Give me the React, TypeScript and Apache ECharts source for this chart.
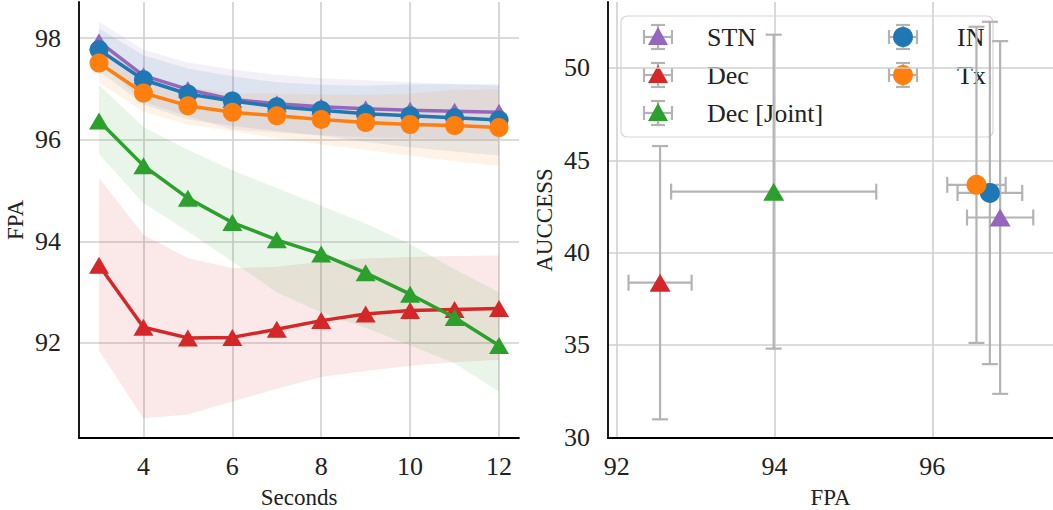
import React, { useEffect, useRef } from 'react';
import * as echarts from 'echarts';

// ---------- Left panel data (FPA vs Seconds) ----------
const seconds = [3, 4, 5, 6, 7, 8, 9, 10, 11, 12];
const xTicksLeft = [4, 6, 8, 10, 12];
const yTicksLeft = [92, 94, 96, 98];

const stnMean = [97.93, 97.26, 96.99, 96.79, 96.71, 96.65, 96.61, 96.58, 96.56, 96.54];
const stnLow = [97.54, 96.75, 96.46, 96.2, 96.14, 96.09, 96.05, 96.03, 96.02, 96.02];
const stnHigh = [98.32, 97.77, 97.52, 97.38, 97.28, 97.21, 97.17, 97.13, 97.1, 97.06];

const decMean = [93.53, 92.31, 92.1, 92.11, 92.27, 92.44, 92.57, 92.64, 92.66, 92.68];
const decLow = [91.85, 90.52, 90.59, 90.85, 91.1, 91.33, 91.45, 91.55, 91.62, 91.67];
const decHigh = [95.25, 94.13, 93.67, 93.47, 93.5, 93.6, 93.66, 93.69, 93.71, 93.72];

const jointMean = [96.37, 95.49, 94.85, 94.37, 94.03, 93.75, 93.38, 92.96, 92.5, 91.95];
const jointLow = [95.72, 94.75, 94.2, 93.6, 93.0, 92.6, 92.3, 91.95, 91.6, 91.04];
const jointHigh = [97.08, 96.25, 95.8, 95.4, 95.05, 94.7, 94.35, 93.95, 93.45, 93.0];

const inMean = [97.77, 97.18, 96.9, 96.76, 96.65, 96.58, 96.51, 96.47, 96.43, 96.39];
const inLow = [97.35, 96.7, 96.4, 96.27, 96.17, 96.08, 95.96, 95.85, 95.77, 95.69];
const inHigh = [98.19, 97.66, 97.4, 97.25, 97.13, 97.08, 97.06, 97.09, 97.09, 97.09];

const txMean = [97.51, 96.92, 96.67, 96.54, 96.47, 96.4, 96.34, 96.3, 96.28, 96.24];
const txLow = [97.12, 96.55, 96.3, 96.17, 96.03, 95.91, 95.8, 95.69, 95.58, 95.49];
const txHigh = [97.9, 97.29, 97.04, 96.91, 96.91, 96.89, 96.88, 96.91, 96.98, 96.99];

// ---------- Right panel data (AUCCESS vs FPA) ----------
const xTicksRight = [92, 94, 96];
const yTicksRight = [30, 35, 40, 45, 50];
const modelNames = ['STN', 'Dec', 'Dec [Joint]', 'IN', 'Tx'];
const fpaValue = [96.86, 92.55, 93.99, 96.73, 96.56];
const fpaErr = [0.42, 0.4, 1.3, 0.41, 0.37];
const auccessValue = [41.9, 38.37, 43.3, 43.23, 43.67];
const auccessErr = [9.55, 7.4, 8.5, 9.27, 8.56];

const colors = ['#9467bd', '#d62728', '#2ca02c', '#1f77b4', '#ff7f0e'];
const bandFills = [
  'rgba(148,103,189,0.1)',
  'rgba(214,39,40,0.1)',
  'rgba(44,160,44,0.1)',
  'rgba(31,119,180,0.1)',
  'rgba(255,127,14,0.1)',
];
const isTriangle = [true, true, true, false, false];

const means = [stnMean, decMean, jointMean, inMean, txMean];
const lows = [stnLow, decLow, jointLow, inLow, txLow];
const highs = [stnHigh, decHigh, jointHigh, inHigh, txHigh];

const FONT = '"Liberation Serif", "Times New Roman", serif';
const TEXT = '#222222';
const GRIDC = '#d0d0d0';
const ERRC = '#b3b3b3';

function bandSeries(idx: number) {
  const low = lows[idx];
  const high = highs[idx];
  return {
    type: 'custom',
    xAxisIndex: 0,
    yAxisIndex: 0,
    z: 1,
    silent: true,
    clip: true,
    data: seconds.map((x, i) => [x, low[i], high[i]]),
    encode: { x: 0, y: [1, 2] },
    renderItem: (params: any, api: any) => {
      if (params.dataIndex !== 0) return null;
      const pts: number[][] = [];
      for (let i = 0; i < seconds.length; i++) pts.push(api.coord([seconds[i], high[i]]));
      for (let i = seconds.length - 1; i >= 0; i--) pts.push(api.coord([seconds[i], low[i]]));
      return {
        type: 'polygon',
        shape: { points: pts },
        style: { fill: bandFills[idx], stroke: 'none' },
      };
    },
  };
}

function lineSeries(idx: number) {
  return {
    type: 'line',
    name: modelNames[idx],
    xAxisIndex: 0,
    yAxisIndex: 0,
    z: 3 + idx,
    data: seconds.map((x, i) => [x, means[idx][i]]),
    symbol: isTriangle[idx] ? 'triangle' : 'circle',
    symbolSize: isTriangle[idx] ? [20, 17] : 19,
    showAllSymbol: true,
    lineStyle: { color: colors[idx], width: 3.5 },
    itemStyle: { color: colors[idx], opacity: 1 },
    emphasis: { disabled: true },
  };
}

function errorSeries(idx: number) {
  return {
    type: 'custom',
    xAxisIndex: 1,
    yAxisIndex: 1,
    z: 2,
    silent: true,
    data: [[fpaValue[idx], auccessValue[idx], fpaErr[idx], auccessErr[idx]]],
    encode: { x: 0, y: 1 },
    renderItem: (params: any, api: any) => {
      const x = api.value(0);
      const y = api.value(1);
      const xe = api.value(2);
      const ye = api.value(3);
      const l = api.coord([x - xe, y]);
      const r = api.coord([x + xe, y]);
      const t = api.coord([x, y + ye]);
      const b = api.coord([x, y - ye]);
      const c = 8;
      const style = { stroke: ERRC, lineWidth: 2.2 };
      const ln = (x1: number, y1: number, x2: number, y2: number) => ({
        type: 'line',
        shape: { x1, y1, x2, y2 },
        style,
      });
      return {
        type: 'group',
        children: [
          ln(l[0], l[1], r[0], r[1]),
          ln(l[0], l[1] - c, l[0], l[1] + c),
          ln(r[0], r[1] - c, r[0], r[1] + c),
          ln(t[0], t[1], b[0], b[1]),
          ln(t[0] - c, t[1], t[0] + c, t[1]),
          ln(b[0] - c, b[1], b[0] + c, b[1]),
        ],
      };
    },
  };
}

function pointSeries(idx: number) {
  return {
    type: 'scatter',
    name: modelNames[idx],
    xAxisIndex: 1,
    yAxisIndex: 1,
    z: 10 + idx,
    data: [[fpaValue[idx], auccessValue[idx]]],
    symbol: isTriangle[idx] ? 'triangle' : 'circle',
    symbolSize: isTriangle[idx] ? [21, 18] : 20,
    itemStyle: { color: colors[idx], opacity: 1 },
    emphasis: { disabled: true },
  };
}

function legendGraphics() {
  const box = { x: 621, y: 16, w: 372, h: 121 };
  const rows = [37, 75, 113];
  const place = [
    { ix: 658, tx: 707, cy: rows[0] },
    { ix: 658, tx: 707, cy: rows[1] },
    { ix: 658, tx: 707, cy: rows[2] },
    { ix: 903, tx: 957, cy: rows[0] },
    { ix: 903, tx: 957, cy: rows[1] },
  ];
  const children: any[] = [
    {
      type: 'rect',
      shape: { x: box.x, y: box.y, width: box.w, height: box.h, r: 6 },
      style: { fill: 'rgba(255,255,255,0.8)', stroke: '#d6d6d6', lineWidth: 1.2 },
    },
  ];
  modelNames.forEach((name, i) => {
    const { ix, tx, cy } = place[i];
    const s = { stroke: ERRC, lineWidth: 2.2 };
    const hw = 14;
    const vh = 12;
    const c = 7;
    children.push(
      { type: 'line', shape: { x1: ix - hw, y1: cy, x2: ix + hw, y2: cy }, style: s },
      { type: 'line', shape: { x1: ix - hw, y1: cy - c, x2: ix - hw, y2: cy + c }, style: s },
      { type: 'line', shape: { x1: ix + hw, y1: cy - c, x2: ix + hw, y2: cy + c }, style: s },
      { type: 'line', shape: { x1: ix, y1: cy - vh, x2: ix, y2: cy + vh }, style: s },
      { type: 'line', shape: { x1: ix - c, y1: cy - vh, x2: ix + c, y2: cy - vh }, style: s },
      { type: 'line', shape: { x1: ix - c, y1: cy + vh, x2: ix + c, y2: cy + vh }, style: s }
    );
    if (isTriangle[i]) {
      children.push({
        type: 'polygon',
        shape: { points: [[ix, cy - 10], [ix - 10, cy + 8], [ix + 10, cy + 8]] },
        style: { fill: colors[i] },
      });
    } else {
      children.push({
        type: 'circle',
        shape: { cx: ix, cy, r: 10 },
        style: { fill: colors[i] },
      });
    }
    children.push({
      type: 'text',
      x: tx,
      y: cy,
      style: {
        text: name,
        fontSize: 26,
        fontFamily: FONT,
        fill: TEXT,
        verticalAlign: 'middle',
        align: 'left',
      },
    });
  });
  return [{ type: 'group', z: 100, children }];
}

const labelStyle = {
  fontFamily: FONT,
  fontSize: 26,
  color: TEXT,
  formatter: '{t|{value}}',
  rich: { t: { fontFamily: FONT, fontSize: 26, color: TEXT } },
};

const axisCommon = {
  axisLine: { show: true, lineStyle: { color: '#000000', width: 1.8 } },
  splitLine: { show: true, lineStyle: { color: GRIDC, width: 1.6 } },
  nameTextStyle: { fontFamily: FONT, fontSize: 23, color: TEXT },
};

export default function App() {
  const ref = useRef<HTMLDivElement>(null);
  useEffect(() => {
    if (!ref.current) return;
    const chart = echarts.init(ref.current, undefined, { renderer: 'svg' });
    const series: any[] = [];
    for (let i = 0; i < 5; i++) series.push(bandSeries(i));
    for (let i = 0; i < 5; i++) series.push(lineSeries(i));
    for (let i = 0; i < 5; i++) series.push(errorSeries(i));
    for (let i = 0; i < 5; i++) series.push(pointSeries(i));

    chart.setOption({
      animation: false,
      backgroundColor: '#ffffff',
      textStyle: { fontFamily: FONT, color: TEXT },
      grid: [
        { left: 79, top: 2, width: 440, height: 436, outerBoundsMode: 'none', containLabel: false },
        { left: 608, top: 2, width: 445, height: 436, outerBoundsMode: 'none', containLabel: false },
      ],
      xAxis: [
        {
          ...axisCommon,
          type: 'value',
          gridIndex: 0,
          min: 2.55,
          max: 12.45,
          name: 'Seconds',
          nameLocation: 'middle',
          nameGap: 48,
          axisTick: { show: false, customValues: xTicksLeft },
          axisLabel: { customValues: xTicksLeft, ...labelStyle, margin: 15 },
        },
        {
          ...axisCommon,
          type: 'value',
          gridIndex: 1,
          min: 91.89,
          max: 97.53,
          name: 'FPA',
          nameLocation: 'middle',
          nameGap: 48,
          axisTick: { show: false, customValues: xTicksRight },
          axisLabel: { customValues: xTicksRight, ...labelStyle, margin: 15 },
        },
      ],
      yAxis: [
        {
          ...axisCommon,
          type: 'value',
          gridIndex: 0,
          min: 90.13,
          max: 98.71,
          name: 'FPA',
          nameLocation: 'middle',
          nameGap: 52,
          axisTick: { show: false, customValues: yTicksLeft },
          axisLabel: { customValues: yTicksLeft, ...labelStyle, margin: 18 },
        },
        {
          ...axisCommon,
          type: 'value',
          gridIndex: 1,
          min: 29.96,
          max: 53.57,
          name: 'AUCCESS',
          nameLocation: 'middle',
          nameGap: 52,
          axisTick: { show: false, customValues: yTicksRight },
          axisLabel: { customValues: yTicksRight, ...labelStyle, margin: 18 },
        },
      ],
      series,
      graphic: legendGraphics(),
    });
    return () => chart.dispose();
  }, []);
  return (
    <div
      ref={ref}
      style={{ position: 'fixed', left: 0, top: 0, width: 1053, height: 510, background: '#fff' }}
    />
  );
}
